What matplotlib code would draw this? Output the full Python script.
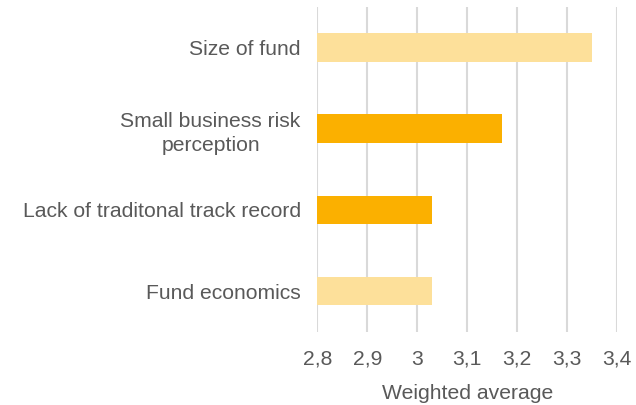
import matplotlib
matplotlib.use("Agg")
import matplotlib.pyplot as plt

# top to bottom
CATEGORIES = ["Size of fund", "Small business risk\nperception",
              "Lack of traditonal track record", "Fund economics"]
VALUES = [3.35, 3.17, 3.03, 3.03]
HIGHLIGHT = [False, True, True, False]
XTICKS = [2.8, 2.9, 3.0, 3.1, 3.2, 3.3, 3.4]
XTICK_LABELS = ["2,8", "2,9", "3", "3,1", "3,2", "3,3", "3,4"]

LIGHT = "#FDE09A"; DARK = "#FBB000"; TEXT = "#595959"; GRID = "#D9D9D9"
FS = 15.2
plt.rcParams["font.family"] = ["Liberation Sans", "DejaVu Sans"]

fig = plt.figure(figsize=(6.36, 4.05), dpi=100)
ax = fig.add_axes([0.499, 0.181, 0.4716, 0.802])

ys = list(range(len(CATEGORIES)))[::-1]
colors = [DARK if h else LIGHT for h in HIGHLIGHT]
ax.barh(ys, VALUES, height=0.35, color=colors, zorder=3)

for x in XTICKS:
    ax.axvline(x, color=GRID, lw=1.5, zorder=1)

ax.set_xlim(2.8, 3.4)
ax.set_ylim(-0.5, len(CATEGORIES) - 0.5)
ax.set_yticks(ys)
ax.set_yticklabels(CATEGORIES, fontsize=FS, color=TEXT, ha="right",
                   multialignment="center", linespacing=1.35)
ax.set_xticks(XTICKS)
ax.set_xticklabels(XTICK_LABELS, fontsize=FS, color=TEXT)
ax.tick_params(axis="y", length=0, pad=12)
ax.tick_params(axis="x", length=0, pad=13)
for sp in ax.spines.values():
    sp.set_visible(False)
ax.set_xlabel("Weighted average", fontsize=FS, color=TEXT, labelpad=11)

fig.savefig("out.png", facecolor="white")
